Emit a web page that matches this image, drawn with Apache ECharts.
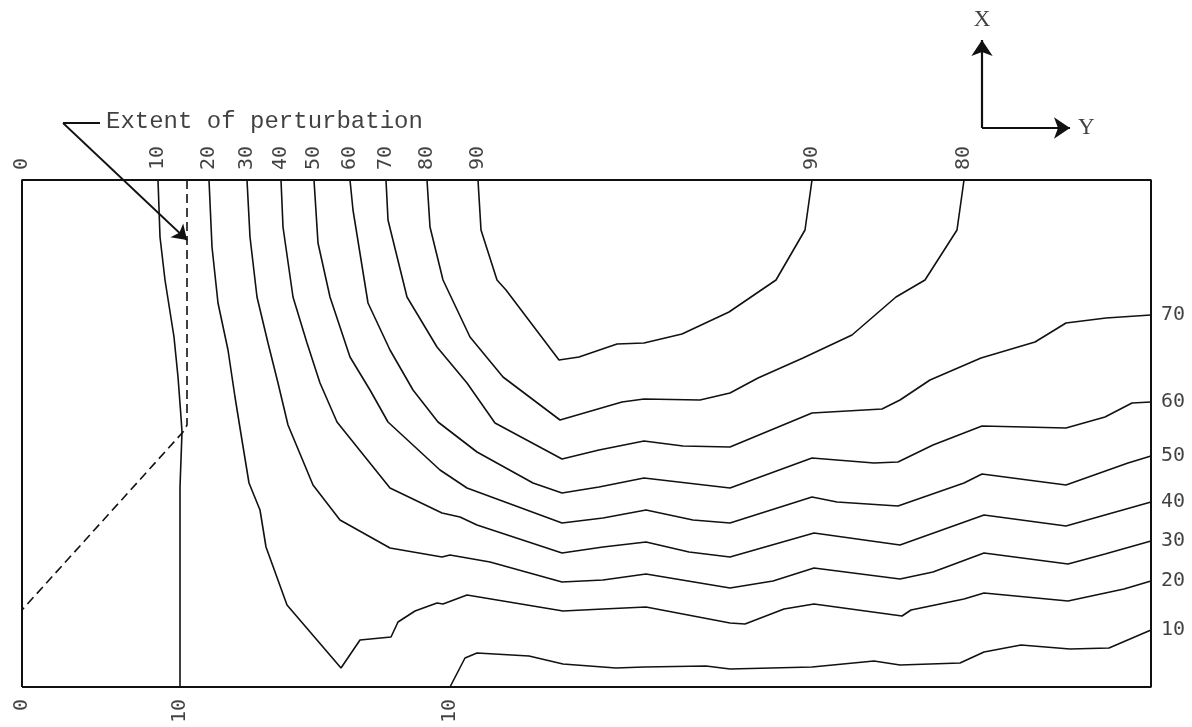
<!DOCTYPE html>
<html><head><meta charset="utf-8">
<script src="https://cdn.jsdelivr.net/npm/echarts@6/dist/echarts.min.js"></script>
<style>html,body{margin:0;padding:0;background:#fff}#c{width:1192px;height:727px}</style>
</head><body><div id="c"></div>
<script>
// Digitized contour coordinates: [Y distance, X distance] in plot units (Y: 0..1129, X: 0..507)
const frame = [[0,0],[1129,0],[1129,507],[0,507],[0,0]];
const perturbation = [[165,507],[165,262],[161,255],[0,77]];
const c10a = [[136,507],[138,450],[143,407],[152,350],[156,310],[159,270],[160,255],[158,200],[158,0]];
const c20 = [[187,507],[190,440],[196,384],[206,337],[213,290],[218,259],[227,204],[238,177],[244,140],[265,82],[319,19],[338,47],[369,50],[376,65],[393,76],[415,84],[421,83],[445,92],[541,76],[581,78],[624,80],[708,64],[723,63],[762,78],[792,83],[880,71],[889,77],[942,88],[962,94],[1046,86],[1102,98],[1129,106]];
const c30 = [[225,507],[228,450],[235,390],[246,344],[256,304],[266,262],[291,202],[318,167],[368,139],[420,130],[428,132],[468,125],[540,105],[581,107],[624,113],[708,99],[751,106],[792,119],[878,108],[911,115],[962,134],[1046,123],[1083,133],[1129,146]];
const c40 = [[259,507],[261,460],[271,390],[285,344],[298,304],[315,265],[368,199],[420,174],[438,170],[455,162],[540,134],[581,140],[624,145],[667,135],[708,130],[792,154],[878,142],[962,172],[1044,161],[1129,185]];
const c50 = [[292,507],[296,444],[308,390],[328,330],[348,297],[366,265],[418,217],[445,199],[540,164],[581,169],[624,177],[671,167],[708,164],[790,190],[815,185],[876,181],[942,204],[960,213],[1044,202],[1106,224],[1129,231]];
const c60 = [[328,507],[331,477],[346,384],[368,337],[391,297],[416,265],[455,235],[511,204],[540,194],[577,200],[622,209],[708,199],[790,229],[852,224],[876,225],[911,242],[960,261],[1044,259],[1083,270],[1110,284],[1129,285]];
const c70 = [[364,507],[366,467],[385,390],[415,340],[445,304],[473,264],[540,228],[577,237],[622,246],[661,241],[708,240],[790,274],[860,278],[878,287],[908,307],[959,329],[1013,345],[1044,364],[1084,369],[1129,372]];
const c80 = [[405,507],[408,460],[421,407],[448,350],[481,310],[538,267],[600,285],[622,288],[678,287],[708,294],[736,309],[781,329],[830,352],[874,390],[903,407],[935,457],[942,507]];
const c90 = [[456,507],[459,457],[475,407],[484,397],[537,327],[557,330],[595,343],[622,344],[660,353],[707,375],[754,407],[783,457],[790,507]];
const c10b = [[428,0],[443,29],[455,34],[507,31],[541,23],[594,19],[622,20],[684,21],[708,18],[790,20],[852,26],[878,22],[938,24],[962,35],[999,42],[1048,38],[1087,39],[1129,57]];

const topLabels = [['0',0],['10',136],['20',187],['30',225],['40',259],['50',292],['60',328],['70',364],['80',405],['90',456],['90',790],['80',942]];
const rightLabels = [['70',372],['60',285],['50',231],['40',185],['30',146],['20',106],['10',57]];
const bottomLabels = [['0',0],['10',158],['10',428]];

const leader = [[41,564],[78,564]];
const leaderArrow = [[41,564],[165,447]];
const axisX = [[960,559],[960,647]];
const axisY = [[960,559],[1048,559]];
const note = [84,565,'Extent of perturbation'];

const chart = echarts.init(document.getElementById('c'), null, {renderer:'canvas'});
const solid = {color:'#111', width:1.6};
function line(d, style){ return {type:'line', data:d, showSymbol:false, symbol:'none', silent:true, clip:false, lineStyle:style||solid, z:2}; }
const digitFont = {fontFamily:'DejaVu Sans Mono', fontSize:20, color:'#111'};
const series = [
  line(frame, {color:'#111', width:2}),
  line(perturbation, {color:'#111', width:1.6, type:[9,5]}),
  line(c10a), line(c20), line(c30), line(c40), line(c50), line(c60), line(c70), line(c80), line(c90), line(c10b),
  line(leader, {color:'#111', width:1.8}),
  {type:'lines', coordinateSystem:'cartesian2d', silent:true, symbol:['none','arrow'], symbolSize:14,
   lineStyle:{color:'#111', width:1.8, opacity:1}, data:[{coords:leaderArrow}], z:3},
  {type:'lines', coordinateSystem:'cartesian2d', silent:true, symbol:['none','arrow'], symbolSize:16,
   lineStyle:{color:'#111', width:2.2, opacity:1}, data:[{coords:axisX},{coords:axisY}], z:3},
  {type:'scatter', symbolSize:0, silent:true, data: topLabels.map(t=>[t[1],507,t[0]]),
   label:{show:true, position:'top', distance:10, rotate:90, align:'left', verticalAlign:'middle', formatter:p=>p.value[2], ...digitFont}},
  {type:'scatter', symbolSize:0, silent:true, data: bottomLabels.map(t=>[t[1],0,t[0]]),
   label:{show:true, position:'bottom', distance:12, rotate:90, align:'right', verticalAlign:'middle', formatter:p=>p.value[2], ...digitFont}},
  {type:'scatter', symbolSize:0, silent:true, data: rightLabels.map(t=>[1129,t[1],t[0]]),
   label:{show:true, position:'right', distance:10, align:'left', verticalAlign:'middle', formatter:p=>p.value[2], ...digitFont}},
  {type:'scatter', symbolSize:0, silent:true, data:[note],
   label:{show:true, position:'right', distance:0, align:'left', verticalAlign:'middle', formatter:p=>p.value[2], fontFamily:'Liberation Mono', fontSize:24, color:'#111'}},
  {type:'scatter', symbolSize:0, silent:true, data:[[axisX[1][0],axisX[1][1]+20,'X']],
   label:{show:true, position:'inside', formatter:p=>p.value[2], fontFamily:'Liberation Serif', fontSize:23, color:'#111'}},
  {type:'scatter', symbolSize:0, silent:true, data:[[axisY[1][0],axisY[1][1],'Y']],
   label:{show:true, position:'right', distance:8, formatter:p=>p.value[2], fontFamily:'Liberation Serif', fontSize:23, color:'#111'}}
];
chart.setOption({
  animation:false,
  backgroundColor:'#fff',
  grid:{left:0, right:0, top:0, bottom:0},
  xAxis:{type:'value', min:-22, max:1170, show:false},
  yAxis:{type:'value', min:-40, max:687, show:false},
  series: series
});
</script></body></html>
